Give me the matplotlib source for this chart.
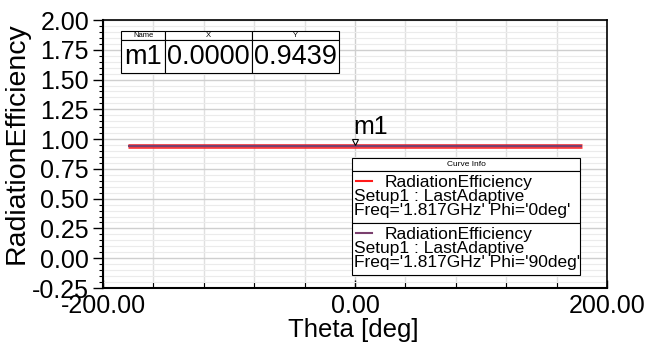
import matplotlib
matplotlib.use("Agg")
import matplotlib.pyplot as plt
from matplotlib.ticker import MultipleLocator, FixedLocator
from matplotlib.patches import Rectangle

plt.rcParams['font.family'] = ['Liberation Sans', 'DejaVu Sans']

theta = [-180, 180]
eff_phi0 = [0.9439, 0.9439]
eff_phi90 = [0.9439, 0.9439]
marker_x = 0.0
marker_y = 0.9439
legend_labels = ["RadiationEfficiency\nSetup1 : LastAdaptive\nFreq='1.817GHz' Phi='0deg'",
                 "RadiationEfficiency\nSetup1 : LastAdaptive\nFreq='1.817GHz' Phi='90deg'"]
colors = ['#ff1a1a', '#7a3f6e']

fig = plt.figure(figsize=(6.47, 3.44), dpi=100)
ax = fig.add_axes([103/647, 1-288/344, (607-103)/647, (288-20)/344])

ax.set_xlim(-200, 200)
ax.set_ylim(-0.25, 2.0)
ax.xaxis.set_major_locator(FixedLocator([-200, 0, 200]))
ax.xaxis.set_minor_locator(MultipleLocator(40))
ax.yaxis.set_major_locator(MultipleLocator(0.25))
ax.yaxis.set_minor_locator(MultipleLocator(0.05))
ax.set_xticklabels(['-200.00', '0.00', '200.00'])
ax.set_yticklabels(['%.2f' % v for v in ax.get_yticks()])
ax.tick_params(axis='y', which='major', labelsize=18, length=7, width=1, pad=3)
ax.tick_params(axis='y', which='minor', length=3, width=0.8)
ax.tick_params(axis='x', which='major', labelsize=18, length=6, width=1, pad=4, direction='in')
ax.tick_params(axis='x', which='minor', length=4, width=0.8, direction='in')
ax.grid(True, which='major', color='#cfcfcf', lw=1)
ax.grid(True, which='minor', color='#ebebeb', lw=0.8)
ax.xaxis.grid(True, which='minor', color='#e0e0e0', lw=1)
ax.set_axisbelow(True)
for s in ['top', 'right']:
    ax.spines[s].set_color('#000000')
    ax.spines[s].set_linewidth(1.2)
for s in ['left', 'bottom']:
    ax.spines[s].set_linewidth(1.5)

ax.plot(theta, eff_phi0, color=colors[0], lw=3.4, solid_capstyle='butt', alpha=0.85)
ax.plot(theta, eff_phi90, color=colors[1], lw=1.6, solid_capstyle='butt')

ax.plot([marker_x], [marker_y + 0.03], marker='v', ms=4, mfc='white', mec='black', mew=0.8)
ax.text(marker_x - 1, marker_y + 0.055, 'm1', fontsize=18, ha='left', va='bottom')

ax.set_xlabel('Theta [deg]', fontsize=18.5)
ax.xaxis.set_label_coords(0.496, -0.112)
ax.set_ylabel('RadiationEfficiency', fontsize=20.5)
ax.yaxis.set_label_coords(-0.145, 0.541)

# marker table
def px(x, y):
    return x/647, 1 - y/344

tx0, tx1, tx2, tx3 = 121, 165, 252, 339
ty0, ty1, ty2 = 31, 40, 73
for (a, b) in [(tx0, tx1), (tx1, tx2), (tx2, tx3)]:
    for (c, d) in [(ty0, ty1), (ty1, ty2)]:
        x, y = px(a, d)
        fig.add_artist(Rectangle((x, y), (b-a)/647, (d-c)/344, transform=fig.transFigure,
                                 fill=True, fc='white', ec='black', lw=0.8))
heads = ['Name', 'X', 'Y']
vals = ['m1', '%.4f' % marker_x, '%.4f' % marker_y]
for (a, b), h, v in zip([(tx0, tx1), (tx1, tx2), (tx2, tx3)], heads, vals):
    fig.text(*px((a+b)/2, (ty0+ty1)/2), h, fontsize=5.5, ha='center', va='center')
    fig.text(*px((a+b)/2, (ty1+ty2)/2 + 1), v, fontsize=19.5, ha='center', va='center')

# legend box
lx0, lx1 = 352, 580
ly0, ly1, ly2, ly3 = 158, 171, 223, 275
for (c, d) in [(ly0, ly1), (ly1, ly2), (ly2, ly3)]:
    x, y = px(lx0, d)
    fig.add_artist(Rectangle((x, y), (lx1-lx0)/647, (d-c)/344, transform=fig.transFigure,
                             fill=True, fc='white', ec='black', lw=0.8))
fig.text(*px((lx0+lx1)/2, (ly0+ly1)/2), 'Curve Info', fontsize=6, ha='center', va='center')
for (c, d), lab, col in zip([(ly1, ly2), (ly2, ly3)], legend_labels, colors):
    fig.add_artist(plt.Line2D([(lx0+4)/647, (lx0+20)/647], [1-(c+10)/344]*2,
                              transform=fig.transFigure, color=col, lw=1.5))
    lines = lab.split('\n')
    fig.text(*px(lx0 + 33, c + 11), lines[0], fontsize=12.5, ha='left', va='center')
    fig.text(*px(lx0 + 2, c + 26), lines[1], fontsize=12.5, ha='left', va='center')
    fig.text(*px(lx0 + 2, c + 40), lines[2], fontsize=12.5, ha='left', va='center')

fig.savefig('out.png', dpi=100)
